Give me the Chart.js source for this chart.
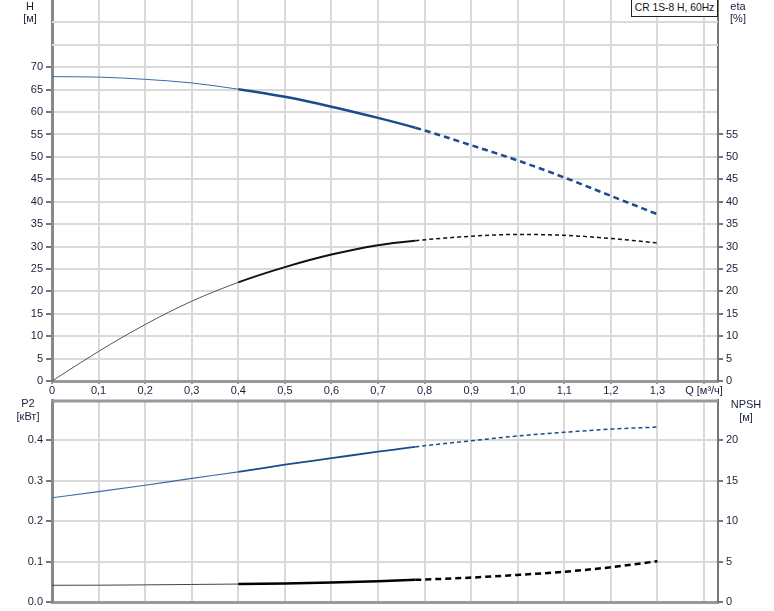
<!DOCTYPE html>
<html>
<head>
<meta charset="utf-8">
<script src="https://cdn.jsdelivr.net/npm/chart.js@4.4.1/dist/chart.umd.min.js"></script>
<style>
  body { margin: 0; background: #fff; font-family: "Liberation Sans", Arial, sans-serif; }
  #wrap { position: relative; width: 774px; height: 611px; overflow: hidden; }
  .lbl { position: absolute; font-size: 11px; color: #1a1f3c; text-align: center; line-height: 12px; }
  #box { position: absolute; left: 631px; top: 0; width: 87px; height: 17px; border: 1px solid #222;
         border-top: none; background: #fff; font-size: 10.3px; line-height: 16px; text-align: center;
         color: #111; box-sizing: border-box; white-space: nowrap; }
</style>
</head>
<body>
<div id="wrap">
  <canvas id="topChart" width="774" height="397" style="position:absolute;left:0;top:0"></canvas>
  <canvas id="botChart" width="774" height="214" style="position:absolute;left:0;top:397px"></canvas>
  <div id="box">CR 1S-8 H, 60Hz</div>
  <div class="lbl" style="left:15px;top:0;width:30px">H</div>
  <div class="lbl" style="left:15px;top:12px;width:30px">[м]</div>
  <div class="lbl" style="left:723px;top:0;width:30px">eta</div>
  <div class="lbl" style="left:723px;top:12px;width:30px">[%]</div>
  <div class="lbl" style="left:8px;top:397px;width:40px">P2</div>
  <div class="lbl" style="left:8px;top:410px;width:40px">[кВт]</div>
  <div class="lbl" style="left:726px;top:398px;width:40px">NPSH</div>
  <div class="lbl" style="left:726px;top:411px;width:40px">[м]</div>
</div>
<script>
// flow values, m3/h
const Q = [0, 0.1, 0.2, 0.3, 0.4, 0.5, 0.6, 0.7, 0.78, 0.9, 1.0, 1.1, 1.2, 1.3];
// head, m
const H = [67.9, 67.8, 67.3, 66.5, 65.1, 63.4, 61.2, 58.7, 56.5, 52.6, 49.2, 45.4, 41.3, 37.2];
// efficiency, %
const eta = [0, 6.6, 12.6, 17.8, 22.0, 25.4, 28.2, 30.3, 31.3, 32.3, 32.7, 32.5, 31.8, 30.8];
// power, kW
const P2 = [0.258, 0.273, 0.289, 0.306, 0.322, 0.340, 0.356, 0.372, 0.384, 0.399, 0.411, 0.420, 0.428, 0.433];
// NPSH, m
const NPSH = [2.07, 2.08, 2.12, 2.17, 2.22, 2.30, 2.42, 2.58, 2.74, 3.02, 3.35, 3.75, 4.30, 5.05];

const xTicks = [0, 0.1, 0.2, 0.3, 0.4, 0.5, 0.6, 0.7, 0.8, 0.9, 1.0, 1.1, 1.2, 1.3, 1.4];
const hTicks = [0, 5, 10, 15, 20, 25, 30, 35, 40, 45, 50, 55, 60, 65, 70];
const etaTicks = [0, 5, 10, 15, 20, 25, 30, 35, 40, 45, 50, 55];
const p2Ticks = [0.0, 0.1, 0.2, 0.3, 0.4];
const npshTicks = [0, 5, 10, 15, 20];

const gridCol = '#d9d9d9';
const txtCol = '#1a1f3c';
const font = { family: '"Liberation Sans", Arial, sans-serif', size: 11 };

function pts(ys) { return Q.map((q, i) => ({ x: q, y: ys[i] })); }

// thin up to ~0.4, thick in the working range, dashed after ~0.78
function seg(thin, thick, dashW, dash, thinCol, col) {
  return {
    borderWidth: c => c.p0.parsed.x < 0.39 ? thin : (c.p0.parsed.x < 0.77 ? thick : dashW),
    borderDash: c => c.p0.parsed.x < 0.77 ? [] : dash,
    borderColor: c => c.p0.parsed.x < 0.39 ? thinCol : col
  };
}

function line(data, axis, col, thinCol, thin, thick, dashW, dash) {
  return {
    data: data, yAxisID: axis, borderColor: col, pointRadius: 0, fill: false,
    cubicInterpolationMode: 'monotone', borderWidth: thick,
    segment: seg(thin, thick, dashW, dash, thinCol, col)
  };
}

function noPad(s) { s.paddingTop = 0; s.paddingBottom = 0; s.paddingLeft = 0; s.paddingRight = 0; }

function xScale(showLabels, h) {
  return {
    type: 'linear', min: 0, max: 1.43,
    afterBuildTicks: s => { s.ticks = xTicks.map(v => ({ value: v })); },
    afterFit: s => { s.height = h; noPad(s); },
    ticks: {
      display: showLabels, color: txtCol, font: font, padding: 0, maxRotation: 0, autoSkip: false,
      callback: v => {
        const k = Math.round(v * 10);
        if (k === 0) return '0';
        if (k === 14) return 'Q [м³/ч]';
        return (k / 10).toFixed(1).replace('.', ',');
      }
    },
    grid: { color: gridCol, lineWidth: 2, drawTicks: showLabels, tickLength: 3, tickColor: '#999' },
    border: { color: '#999', width: 3 }
  };
}

function yScale(pos, min, max, tickVals, fmt, grid, tickLen, w) {
  return {
    type: 'linear', position: pos, min: min, max: max,
    afterBuildTicks: s => { s.ticks = tickVals.map(v => ({ value: v })); },
    afterFit: s => { s.width = w; noPad(s); },
    ticks: { color: txtCol, font: font, padding: 3, callback: fmt, autoSkip: false },
    grid: { drawOnChartArea: grid, color: gridCol, lineWidth: 2, tickLength: tickLen, tickColor: '#777' },
    border: { color: pos === 'left' ? '#888' : '#777', width: pos === 'left' ? 3 : 2 }
  };
}

// extra grid lines above the labelled ticks, plus frame top line
const extraGrid = {
  id: 'extraGrid',
  beforeDatasetsDraw(chart, args, opts) {
    const c = chart.ctx, a = chart.chartArea, ys = chart.scales[opts.axis];
    c.save();
    c.strokeStyle = gridCol; c.lineWidth = 2;
    opts.vals.forEach(v => {
      const y = Math.round(ys.getPixelForValue(v));
      c.beginPath(); c.moveTo(a.left, y); c.lineTo(a.right, y); c.stroke();
    });
    if (opts.frame) {
      c.strokeStyle = '#999'; c.lineWidth = 3;
      c.beginPath(); c.moveTo(a.left - 1, a.top + 1); c.lineTo(a.right, a.top + 1); c.stroke();
    }
    c.restore();
  }
};

new Chart(document.getElementById('topChart'), {
  type: 'line',
  data: {
    datasets: [
      line(pts(H), 'yH', '#1a4b8c', '#3a6aa8', 1, 2.5, 2.5, [6, 4]),
      line(pts(eta), 'yEta', '#111', '#555', 1, 2, 1.5, [4, 3])
    ]
  },
  options: {
    responsive: false, animation: false,
    layout: { padding: { top: 0, left: 0, right: 0, bottom: 0 } },
    plugins: { legend: { display: false }, tooltip: { enabled: false },
      extraGrid: { axis: 'yH', vals: [75, 80], frame: false } },
    scales: {
      x: xScale(true, 16),
      yH: yScale('left', 0, 85, hTicks, v => v, true, 6, 52),
      yEta: yScale('right', 0, 85, etaTicks, v => v, false, 5, 56)
    }
  },
  plugins: [extraGrid]
});

new Chart(document.getElementById('botChart'), {
  type: 'line',
  data: {
    datasets: [
      line(pts(P2), 'yP', '#1a4b8c', '#3a6aa8', 1.2, 1.8, 1.5, [4, 3]),
      line(pts(NPSH), 'yN', '#000', '#444', 1, 2.5, 2.5, [6, 4])
    ]
  },
  options: {
    responsive: false, animation: false,
    layout: { padding: { top: 3, left: 0, right: 0, bottom: 0 } },
    plugins: { legend: { display: false }, tooltip: { enabled: false },
      extraGrid: { axis: 'yP', vals: [], frame: true } },
    scales: {
      x: xScale(false, 9),
      yP: yScale('left', 0, 0.5, p2Ticks, v => v.toFixed(1), true, 6, 52),
      yN: yScale('right', 0, 25, npshTicks, v => v, false, 5, 56)
    }
  },
  plugins: [extraGrid]
});
</script>
</body>
</html>
